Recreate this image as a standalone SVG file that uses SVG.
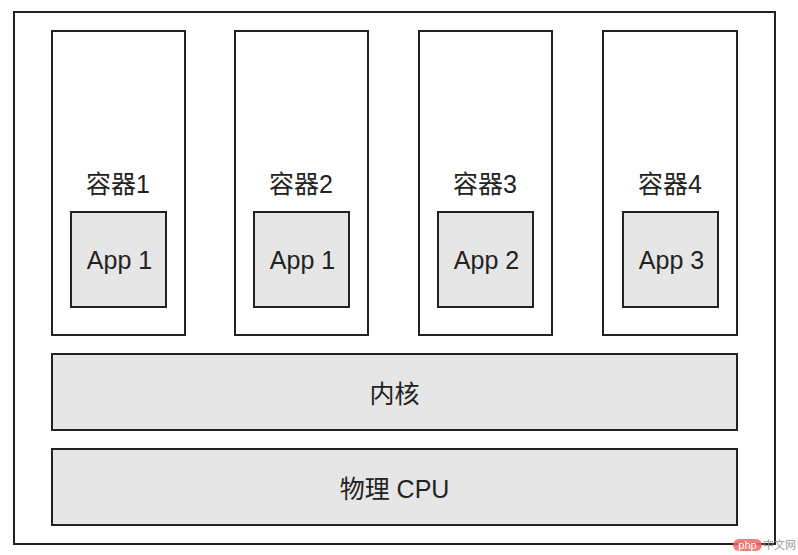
<svg xmlns="http://www.w3.org/2000/svg" width="798" height="555" viewBox="0 0 798 555">
<style>
.frame{fill:#fff;stroke:#222;stroke-width:2}
.box{fill:#e6e6e6;stroke:#222;stroke-width:2}
.t{font-family:"Liberation Sans","Noto Sans CJK SC",sans-serif;font-size:25px;fill:#222;text-anchor:middle}
</style>
<rect x="0" y="0" width="798" height="555" fill="#fff"/>
<g id="host"><rect class="frame" x="14" y="12" width="761" height="532"/></g>
<g id="c1"><rect class="frame" x="52" y="31" width="133" height="304"/><text class="t" x="118" y="193">容器1</text></g>
<g id="a1"><rect class="box" x="71" y="212" width="95" height="95"/><text class="t" x="119.5" y="269">App 1</text></g>
<g id="c2"><rect class="frame" x="235" y="31" width="133" height="304"/><text class="t" x="301" y="193">容器2</text></g>
<g id="a2"><rect class="box" x="254" y="212" width="95" height="95"/><text class="t" x="302.5" y="269">App 1</text></g>
<g id="c3"><rect class="frame" x="419" y="31" width="133" height="304"/><text class="t" x="485" y="193">容器3</text></g>
<g id="a3"><rect class="box" x="438" y="212" width="95" height="95"/><text class="t" x="486.5" y="269">App 2</text></g>
<g id="c4"><rect class="frame" x="603" y="31" width="134" height="304"/><text class="t" x="670" y="193">容器4</text></g>
<g id="a4"><rect class="box" x="623" y="212" width="95" height="95"/><text class="t" x="671.5" y="269">App 3</text></g>
<g id="kernel"><rect class="box" x="52" y="354" width="685" height="76"/><text class="t" x="394.5" y="403">内核</text></g>
<g id="cpu"><rect class="box" x="52" y="449" width="685" height="76"/><text class="t" x="394.5" y="498">物理 CPU</text></g>
<g id="connectors"></g>
<g id="watermark">
<rect x="733" y="539" width="29" height="12" rx="6" fill="#e66" opacity="0.85"/>
<text x="747.5" y="549" font-family="Liberation Sans,sans-serif" font-size="11" fill="#fff" text-anchor="middle">php</text>
<text x="763" y="549" font-family="Liberation Sans,'Noto Sans CJK SC',sans-serif" font-size="11" fill="#999">中文网</text>
</g>
</svg>
